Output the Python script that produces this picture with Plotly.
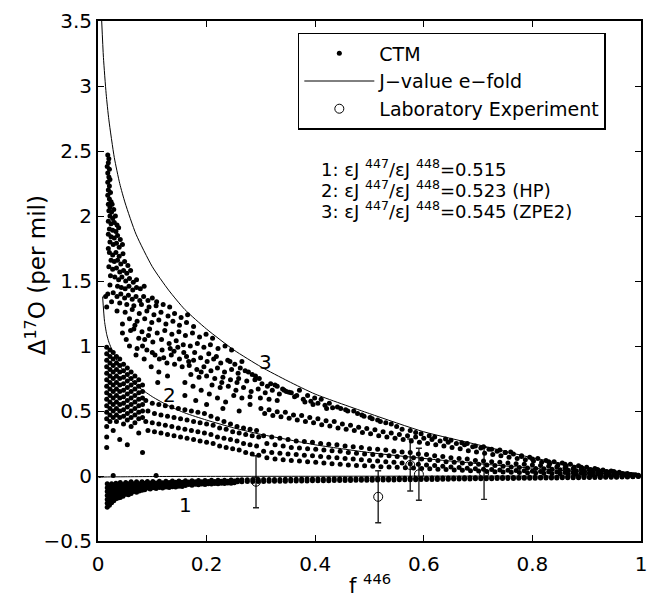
import plotly.graph_objects as go

FONT = "DejaVu Sans"

# ---------------- J-value e-fold curves ----------------
curve3_f = [0.0068, 0.01, 0.015, 0.02, 0.03, 0.04, 0.05, 0.07, 0.1, 0.13, 0.16, 0.2, 0.25, 0.3,
            0.35, 0.4, 0.5, 0.6, 0.7, 0.8, 0.9, 1.0]
curve3_d = [3.5, 3.22, 2.94, 2.74, 2.45, 2.25, 2.10, 1.86, 1.61, 1.43, 1.28, 1.13, 0.97, 0.84,
            0.73, 0.63, 0.48, 0.34, 0.24, 0.14, 0.065, 0.0]
curve2_f = [0.0085, 0.012, 0.016, 0.02, 0.03, 0.04, 0.05, 0.07, 0.1, 0.13, 0.16, 0.2, 0.25, 0.3,
            0.35, 0.4, 0.5, 0.6, 0.7, 0.8, 0.9, 1.0]
curve2_d = [1.38, 1.19, 1.09, 1.03, 0.93, 0.85, 0.79, 0.70, 0.61, 0.54, 0.485, 0.43, 0.37, 0.32,
            0.28, 0.24, 0.18, 0.135, 0.095, 0.06, 0.028, 0.0]
curve1_f = [0.001, 0.01, 0.05, 0.1, 0.2, 0.4, 0.6, 0.8, 1.0]
curve1_d = [-0.012, -0.008, -0.006, -0.004, -0.003, -0.002, -0.001, -0.0005, 0.0]

# ---------------- Laboratory experiment ----------------
lab_f = [0.291, 0.516, 0.575, 0.591, 0.711]
lab_d = [-0.044, -0.16, 0.085, 0.013, 0.02]
lab_err = [0.2, 0.2, 0.2, 0.2, 0.2]

# ---------------- CTM points ----------------
ctm_upper = [
    (0.018, 2.47), (0.020, 2.44), (0.019, 2.41), (0.017, 2.38), (0.021, 2.36), (0.018, 2.33), (0.020, 2.30),
    (0.022, 2.28), (0.018, 2.26), (0.021, 2.23), (0.019, 2.20), (0.023, 2.18), (0.018, 2.16), (0.021, 2.13),
    (0.024, 2.11), (0.019, 2.09), (0.022, 2.07), (0.026, 2.09),
    (0.020, 2.04), (0.025, 2.03), (0.029, 2.05), (0.022, 2.00), (0.027, 1.98), (0.032, 2.00), (0.019, 1.96),
    (0.024, 1.94), (0.030, 1.95), (0.035, 1.93), (0.021, 1.90), (0.027, 1.89), (0.033, 1.88), (0.038, 1.91),
    (0.019, 1.86), (0.024, 1.84), (0.030, 1.83), (0.036, 1.85), (0.041, 1.82), (0.022, 1.80), (0.028, 1.78),
    (0.034, 1.79), (0.039, 1.76), (0.045, 1.78), (0.019, 1.75),
    (0.021, 1.72), (0.027, 1.70), (0.033, 1.72), (0.039, 1.69), (0.046, 1.71), (0.024, 1.66), (0.030, 1.65),
    (0.036, 1.66), (0.042, 1.63), (0.049, 1.65), (0.055, 1.62), (0.020, 1.61), (0.027, 1.59), (0.034, 1.60),
    (0.040, 1.57), (0.047, 1.58), (0.053, 1.56), (0.060, 1.58), (0.023, 1.54), (0.031, 1.53), (0.038, 1.51),
    (0.044, 1.53), (0.051, 1.50), (0.058, 1.52), (0.065, 1.49), (0.071, 1.51), (0.022, 1.47), (0.036, 1.46),
    (0.043, 1.45), (0.050, 1.44), (0.057, 1.46), (0.064, 1.43), (0.071, 1.45), (0.078, 1.44), (0.085, 1.46),
    (0.018, 1.40), (0.028, 1.41), (0.035, 1.38), (0.042, 1.40), (0.049, 1.37), (0.056, 1.39), (0.063, 1.36),
    (0.070, 1.38), (0.077, 1.35), (0.084, 1.38), (0.092, 1.35), (0.100, 1.37), (0.108, 1.34), (0.040, 1.33),
    (0.053, 1.32), (0.066, 1.31), (0.080, 1.32), (0.094, 1.30), (0.107, 1.31), (0.120, 1.32), (0.132, 1.30),
    (0.025, 1.34),
    (0.035, 1.27), (0.050, 1.26), (0.063, 1.28), (0.076, 1.25), (0.090, 1.27), (0.103, 1.24), (0.116, 1.26),
    (0.129, 1.23), (0.141, 1.25), (0.153, 1.22), (0.165, 1.24), (0.058, 1.21), (0.072, 1.19), (0.086, 1.21),
    (0.099, 1.18), (0.112, 1.20), (0.125, 1.17), (0.138, 1.19), (0.150, 1.16), (0.163, 1.18), (0.176, 1.15),
    (0.045, 1.17),
    (0.066, 1.13), (0.081, 1.11), (0.095, 1.13), (0.109, 1.10), (0.123, 1.12), (0.136, 1.09), (0.149, 1.11),
    (0.161, 1.08), (0.174, 1.10), (0.187, 1.07), (0.199, 1.09), (0.211, 1.06), (0.086, 1.05), (0.101, 1.03),
    (0.117, 1.05), (0.131, 1.02), (0.144, 1.04), (0.157, 1.01), (0.170, 1.00), (0.183, 1.02), (0.195, 0.99),
    (0.207, 1.01), (0.221, 0.98), (0.234, 1.00), (0.072, 0.98), (0.118, 0.97), (0.140, 0.96), (0.246, 0.97),
    (0.105, 0.93), (0.121, 0.91), (0.135, 0.93), (0.150, 0.90), (0.163, 0.92), (0.176, 0.89), (0.189, 0.91),
    (0.201, 0.88), (0.213, 0.90), (0.226, 0.87), (0.239, 0.89), (0.252, 0.86), (0.265, 0.88), (0.141, 0.86),
    (0.155, 0.84), (0.168, 0.85), (0.182, 0.82), (0.195, 0.84), (0.208, 0.81), (0.220, 0.83), (0.233, 0.80),
    (0.246, 0.82), (0.258, 0.79), (0.271, 0.81), (0.284, 0.78), (0.171, 0.78), (0.186, 0.76), (0.200, 0.77),
    (0.215, 0.75), (0.230, 0.76), (0.244, 0.74), (0.259, 0.75), (0.274, 0.73), (0.289, 0.74), (0.302, 0.71),
    (0.210, 0.70), (0.225, 0.68), (0.240, 0.69), (0.254, 0.66), (0.268, 0.68), (0.282, 0.65), (0.295, 0.67),
    (0.308, 0.64), (0.321, 0.66), (0.334, 0.63), (0.347, 0.65), (0.250, 0.62), (0.265, 0.60), (0.280, 0.61),
    (0.299, 0.60), (0.315, 0.59), (0.330, 0.58),
    (0.312, 0.69), (0.326, 0.70), (0.340, 0.67), (0.356, 0.64), (0.371, 0.66), (0.386, 0.62), (0.399, 0.60),
    (0.411, 0.59), (0.426, 0.56), (0.441, 0.53), (0.456, 0.51), (0.471, 0.50), (0.486, 0.47), (0.501, 0.45),
    (0.362, 0.61), (0.381, 0.57), (0.396, 0.55), (0.421, 0.52), (0.515, 0.43), (0.530, 0.41),
    (0.058, 1.00), (0.070, 0.93), (0.085, 0.90), (0.098, 0.84), (0.112, 0.80), (0.128, 0.77), (0.090, 0.97),
    (0.110, 0.72), (0.160, 0.72), (0.175, 0.69), (0.190, 0.66), (0.205, 0.63), (0.220, 0.60), (0.235, 0.57),
    (0.160, 0.62), (0.180, 0.58), (0.200, 0.55), (0.230, 0.52), (0.260, 0.50), (0.280, 0.55),
    (0.014, 1.38), (0.016, 1.30),
    (0.045, 1.10), (0.052, 1.05), (0.060, 1.12), (0.075, 1.06), (0.068, 1.16), (0.082, 1.00), (0.093, 1.08),
    (0.100, 0.95), (0.113, 0.90), (0.127, 0.87), (0.133, 0.98), (0.147, 0.99), (0.158, 0.95), (0.167, 0.88),
    (0.178, 0.95), (0.190, 0.80), (0.204, 0.94), (0.218, 0.92), (0.228, 0.72), (0.243, 0.88), (0.256, 0.72),
    (0.262, 0.83), (0.277, 0.80), (0.290, 0.77), (0.297, 0.75), (0.318, 0.71), (0.330, 0.69), (0.343, 0.66),
    (0.352, 0.645), (0.366, 0.62), (0.378, 0.59), (0.392, 0.575), (0.405, 0.56), (0.418, 0.545), (0.432, 0.525),
    (0.447, 0.52), (0.460, 0.50), (0.478, 0.48), (0.490, 0.46), (0.505, 0.44), (0.520, 0.42), (0.540, 0.40),
    (0.550, 0.38), (0.575, 0.35), (0.595, 0.325), (0.620, 0.30), (0.650, 0.275), (0.670, 0.255), (0.695, 0.23),
    (0.725, 0.205), (0.750, 0.18), (0.780, 0.15), (0.800, 0.13), (0.830, 0.11), (0.860, 0.09), (0.890, 0.068),
    (0.920, 0.05), (0.950, 0.035),
]

ctm_band2 = [
    (0.300, 0.52), (0.307, 0.48), (0.315, 0.51), (0.322, 0.465), (0.330, 0.495), (0.337, 0.455), (0.345, 0.49),
    (0.352, 0.445), (0.360, 0.47), (0.367, 0.43), (0.375, 0.465), (0.382, 0.42), (0.390, 0.45), (0.397, 0.41),
    (0.405, 0.44), (0.412, 0.395), (0.420, 0.425), (0.427, 0.385), (0.435, 0.42), (0.442, 0.37), (0.450, 0.40),
    (0.457, 0.36), (0.465, 0.39), (0.472, 0.35), (0.480, 0.375), (0.487, 0.335), (0.495, 0.365), (0.502, 0.325),
    (0.510, 0.355), (0.517, 0.31), (0.525, 0.34), (0.532, 0.30), (0.540, 0.33), (0.547, 0.29), (0.555, 0.32),
    (0.562, 0.28), (0.570, 0.31), (0.577, 0.27), (0.585, 0.30), (0.592, 0.26), (0.600, 0.29), (0.607, 0.25),
    (0.615, 0.28), (0.622, 0.24), (0.630, 0.27), (0.637, 0.23), (0.645, 0.26), (0.652, 0.22), (0.660, 0.25),
    (0.667, 0.21), (0.675, 0.24), (0.682, 0.195), (0.690, 0.225), (0.697, 0.185), (0.705, 0.215), (0.712, 0.175),
    (0.720, 0.205), (0.727, 0.165), (0.735, 0.19), (0.742, 0.155), (0.750, 0.18), (0.757, 0.145), (0.765, 0.17),
    (0.772, 0.135), (0.780, 0.155), (0.787, 0.125), (0.795, 0.145), (0.802, 0.115), (0.810, 0.135), (0.817, 0.105),
    (0.825, 0.12), (0.832, 0.095), (0.840, 0.11), (0.847, 0.085), (0.855, 0.10), (0.862, 0.075), (0.870, 0.09),
    (0.877, 0.068), (0.885, 0.078), (0.892, 0.058), (0.900, 0.068), (0.907, 0.05), (0.915, 0.057), (0.922, 0.042),
    (0.930, 0.047), (0.937, 0.034), (0.945, 0.038), (0.952, 0.026), (0.960, 0.028), (0.967, 0.018), (0.975, 0.019),
    (0.982, 0.011), (0.990, 0.01),
    (0.560, 0.36), (0.585, 0.335), (0.610, 0.31), (0.640, 0.285), (0.680, 0.25), (0.710, 0.225), (0.740, 0.20),
    (0.760, 0.185),
]

# lower cloud: columns of (f, [Delta values])
ctm_lower_cols = [
    (0.016, [0.99, 0.94, 0.89, 0.84, 0.79, 0.74, 0.69, 0.64, 0.59, 0.54, 0.49, 0.44, 0.38, 0.30, 0.22]),
    (0.022, [0.97, 0.92, 0.87, 0.82, 0.77, 0.72, 0.67, 0.62, 0.57, 0.52, 0.47, 0.42]),
    (0.028, [0.95, 0.90, 0.85, 0.80, 0.75, 0.70, 0.65, 0.60, 0.55, 0.50, 0.45, 0.35]),
    (0.034, [0.92, 0.87, 0.82, 0.77, 0.72, 0.67, 0.62, 0.57, 0.52, 0.47, 0.42]),
    (0.040, [0.90, 0.85, 0.80, 0.75, 0.70, 0.65, 0.60, 0.55, 0.50, 0.45, 0.28]),
    (0.047, [0.86, 0.81, 0.76, 0.71, 0.66, 0.61, 0.56, 0.51, 0.46, 0.40]),
    (0.054, [0.83, 0.78, 0.73, 0.68, 0.63, 0.58, 0.53, 0.48, 0.43, 0.24]),
    (0.061, [0.80, 0.75, 0.70, 0.65, 0.60, 0.55, 0.50, 0.45, 0.38]),
    (0.068, [0.77, 0.72, 0.67, 0.62, 0.57, 0.52, 0.47, 0.41]),
    (0.075, [0.74, 0.69, 0.64, 0.59, 0.54, 0.49, 0.44, 0.33]),
    (0.082, [0.70, 0.65, 0.60, 0.55, 0.50, 0.45, 0.18]),
    (0.088, [0.58, 0.42]), (0.092, [0.50, 0.35]), (0.100, [0.56, 0.41]), (0.104, [0.48, 0.34]),
    (0.112, [0.55, 0.40]), (0.116, [0.47, 0.33]), (0.124, [0.54, 0.39]), (0.128, [0.46, 0.32]),
    (0.136, [0.53, 0.38]), (0.140, [0.45, 0.31]), (0.148, [0.52, 0.37]), (0.152, [0.44, 0.30]),
    (0.160, [0.51, 0.36]), (0.164, [0.43, 0.29]), (0.172, [0.50, 0.35]), (0.176, [0.42, 0.28]),
    (0.184, [0.49, 0.34]), (0.188, [0.41, 0.27]), (0.196, [0.48, 0.33]), (0.200, [0.40, 0.26]),
    (0.208, [0.46, 0.32]), (0.212, [0.39, 0.25]), (0.220, [0.44, 0.30]), (0.224, [0.37, 0.23]),
    (0.232, [0.42, 0.29]), (0.236, [0.36, 0.22]), (0.244, [0.40, 0.28]), (0.248, [0.34, 0.21]),
    (0.256, [0.38, 0.27]), (0.260, [0.33, 0.20]), (0.268, [0.37, 0.25]), (0.272, [0.32, 0.18]),
    (0.280, [0.36, 0.24]), (0.284, [0.31, 0.17]), (0.292, [0.35, 0.23]), (0.296, [0.30, 0.16]),
    (0.305, [0.31, 0.19]), (0.311, [0.25, 0.14]), (0.320, [0.30, 0.18]), (0.326, [0.24, 0.13]),
    (0.335, [0.29, 0.175]), (0.341, [0.23, 0.125]), (0.350, [0.28, 0.17]), (0.356, [0.22, 0.12]),
    (0.365, [0.27, 0.165]), (0.371, [0.215, 0.115]), (0.380, [0.265, 0.16]), (0.386, [0.21, 0.11]),
    (0.395, [0.26, 0.155]), (0.401, [0.205, 0.105]), (0.410, [0.25, 0.15]), (0.416, [0.20, 0.10]),
    (0.425, [0.245, 0.145]), (0.431, [0.195, 0.095]), (0.440, [0.24, 0.14]), (0.446, [0.19, 0.09]),
    (0.455, [0.23, 0.135]), (0.461, [0.18, 0.085]), (0.470, [0.225, 0.13]), (0.476, [0.175, 0.08]),
    (0.485, [0.22, 0.125]), (0.491, [0.17, 0.078]), (0.500, [0.21, 0.12]), (0.506, [0.165, 0.075]),
    (0.515, [0.205, 0.115]), (0.521, [0.16, 0.072]), (0.530, [0.20, 0.11]), (0.536, [0.155, 0.07]),
    (0.545, [0.19, 0.105]), (0.551, [0.15, 0.067]), (0.560, [0.185, 0.10]), (0.566, [0.145, 0.064]),
    (0.575, [0.18, 0.095]), (0.581, [0.14, 0.061]), (0.590, [0.17, 0.09]), (0.596, [0.13, 0.058]),
    (0.605, [0.165, 0.085]), (0.611, [0.125, 0.055]), (0.620, [0.155, 0.08]), (0.626, [0.12, 0.052]),
    (0.635, [0.15, 0.075]), (0.641, [0.11, 0.05]), (0.650, [0.14, 0.07]), (0.656, [0.105, 0.047]),
    (0.665, [0.135, 0.065]), (0.671, [0.10, 0.044]), (0.680, [0.13, 0.06]), (0.686, [0.095, 0.041]),
    (0.695, [0.12, 0.055]), (0.701, [0.09, 0.038]), (0.710, [0.115, 0.052]), (0.716, [0.085, 0.035]),
    (0.725, [0.11, 0.05]), (0.731, [0.08, 0.033]), (0.740, [0.105, 0.047]), (0.746, [0.075, 0.031]),
    (0.755, [0.10, 0.045]), (0.761, [0.07, 0.029]), (0.770, [0.095, 0.042]), (0.776, [0.066, 0.027]),
    (0.785, [0.09, 0.04]), (0.791, [0.062, 0.025]), (0.800, [0.085, 0.037]), (0.806, [0.058, 0.023]),
    (0.815, [0.08, 0.035]), (0.821, [0.055, 0.021]), (0.830, [0.075, 0.033]), (0.836, [0.052, 0.019]),
    (0.845, [0.07, 0.03]), (0.851, [0.048, 0.017]), (0.860, [0.062, 0.027]), (0.866, [0.044, 0.015]),
    (0.875, [0.056, 0.025]), (0.881, [0.04, 0.014]), (0.890, [0.05, 0.022]), (0.896, [0.036, 0.013]),
    (0.905, [0.045, 0.02]), (0.911, [0.032, 0.012]), (0.920, [0.038, 0.018]), (0.926, [0.028, 0.011]),
    (0.935, [0.032, 0.015]), (0.941, [0.024, 0.01]), (0.950, [0.026, 0.012]), (0.956, [0.02, 0.009]),
    (0.965, [0.02, 0.01]), (0.971, [0.016, 0.008]), (0.980, [0.012, 0.007]), (0.986, [0.01, 0.005]),
    (0.995, [0.006, 0.003]),
]

# negative band (case 1): columns of (f, [Delta values])
ctm_neg_cols = [
    (0.017, [-0.06, -0.09, -0.12, -0.15, -0.18, -0.21, -0.24]),
    (0.021, [-0.075, -0.105, -0.135, -0.165, -0.195, -0.225]),
    (0.025, [-0.06, -0.09, -0.12, -0.15, -0.18, -0.205]),
    (0.029, [-0.07, -0.10, -0.13, -0.16, -0.19]),
    (0.033, [-0.055, -0.085, -0.115, -0.145, -0.175]),
    (0.037, [-0.065, -0.095, -0.125, -0.155, -0.17]),
    (0.041, [-0.05, -0.08, -0.11, -0.14, -0.165]),
    (0.046, [-0.065, -0.095, -0.125, -0.155]),
    (0.051, [-0.05, -0.08, -0.11, -0.14]),
    (0.056, [-0.06, -0.09, -0.12, -0.145]),
    (0.061, [-0.045, -0.075, -0.105, -0.135]),
    (0.066, [-0.06, -0.09, -0.12]),
    (0.071, [-0.045, -0.075, -0.105, -0.125]),
    (0.076, [-0.06, -0.09, -0.115]),
    (0.081, [-0.045, -0.07, -0.095, -0.11]),
    (0.086, [-0.055, -0.08, -0.105]),
    (0.091, [-0.042, -0.068, -0.092]),
    (0.096, [-0.055, -0.08, -0.10]),
    (0.101, [-0.042, -0.066, -0.09]),
    (0.107, [-0.053, -0.078, -0.097]),
    (0.113, [-0.041, -0.064, -0.088]),
    (0.119, [-0.052, -0.076, -0.093]),
    (0.125, [-0.04, -0.062, -0.085]),
    (0.131, [-0.05, -0.072, -0.089]),
    (0.137, [-0.039, -0.06, -0.082]),
    (0.143, [-0.049, -0.07, -0.085]),
    (0.149, [-0.038, -0.058, -0.078]),
    (0.155, [-0.048, -0.068, -0.08]),
    (0.161, [-0.037, -0.056, -0.074]),
    (0.167, [-0.047, -0.066]),
    (0.173, [-0.036, -0.055, -0.071]),
    (0.179, [-0.045, -0.064]),
    (0.185, [-0.035, -0.053, -0.068]),
    (0.191, [-0.044, -0.062]),
    (0.197, [-0.034, -0.052, -0.065]),
    (0.203, [-0.043, -0.06]),
    (0.209, [-0.033, -0.05, -0.062]),
    (0.215, [-0.042, -0.058]),
    (0.221, [-0.032, -0.048, -0.06]),
    (0.227, [-0.041, -0.056]),
    (0.233, [-0.032, -0.047, -0.058]),
    (0.239, [-0.04, -0.054]),
    (0.245, [-0.031, -0.046, -0.056]),
    (0.251, [-0.039, -0.052]),
    (0.257, [-0.03, -0.045]),
    (0.265, [-0.028, -0.044]), (0.275, [-0.028, -0.043]), (0.285, [-0.027, -0.043]), (0.295, [-0.027, -0.042]),
    (0.305, [-0.027, -0.042]), (0.315, [-0.026, -0.041]), (0.325, [-0.026, -0.041]), (0.335, [-0.026, -0.040]),
    (0.345, [-0.025, -0.040]), (0.355, [-0.025, -0.039]), (0.365, [-0.025, -0.039]), (0.375, [-0.024, -0.038]),
    (0.385, [-0.024, -0.038]), (0.395, [-0.024, -0.037]), (0.405, [-0.023, -0.037]), (0.415, [-0.023, -0.036]),
    (0.425, [-0.023, -0.036]), (0.435, [-0.022, -0.035]), (0.445, [-0.022, -0.035]), (0.455, [-0.022, -0.034]),
    (0.465, [-0.021, -0.034]), (0.475, [-0.021, -0.033]), (0.485, [-0.021, -0.033]), (0.495, [-0.020, -0.032]),
    (0.505, [-0.020, -0.032]), (0.515, [-0.020, -0.031]), (0.525, [-0.019, -0.031]), (0.535, [-0.019, -0.030]),
    (0.545, [-0.019, -0.030]), (0.555, [-0.018, -0.029]), (0.565, [-0.018, -0.029]), (0.575, [-0.018, -0.028]),
    (0.585, [-0.017, -0.028]), (0.595, [-0.017, -0.027]), (0.605, [-0.017, -0.027]), (0.615, [-0.016, -0.026]),
    (0.625, [-0.016, -0.026]), (0.635, [-0.016, -0.025]), (0.645, [-0.015, -0.025]), (0.655, [-0.015, -0.024]),
    (0.665, [-0.015, -0.024]), (0.675, [-0.014, -0.023]), (0.685, [-0.014, -0.023]), (0.695, [-0.014, -0.022]),
    (0.705, [-0.013, -0.022]), (0.715, [-0.013, -0.021]), (0.725, [-0.013, -0.021]), (0.735, [-0.012, -0.020]),
    (0.745, [-0.012, -0.020]), (0.755, [-0.012, -0.019]), (0.765, [-0.011, -0.019]), (0.775, [-0.011, -0.018]),
    (0.785, [-0.011, -0.018]), (0.795, [-0.010, -0.017]), (0.805, [-0.010, -0.017]), (0.815, [-0.010, -0.016]),
    (0.825, [-0.009, -0.016]), (0.835, [-0.009, -0.015]), (0.845, [-0.009, -0.015]), (0.855, [-0.008, -0.014]),
    (0.865, [-0.008, -0.014]), (0.875, [-0.008, -0.013]), (0.885, [-0.007, -0.013]), (0.895, [-0.007, -0.012]),
    (0.905, [-0.007, -0.012]), (0.915, [-0.006, -0.011]), (0.925, [-0.006, -0.011]), (0.935, [-0.006, -0.010]),
    (0.945, [-0.005, -0.010]), (0.955, [-0.005, -0.009]), (0.965, [-0.004, -0.008]), (0.975, [-0.004, -0.007]),
    (0.985, [-0.003, -0.006]), (0.995, [-0.002, -0.004]),
]
ctm_zero = [(0.028, 0.003), (0.107, 0.003)]

# text
ratio_lines = ["1: \u03b5J <sup>447</sup>/\u03b5J <sup>448</sup>=0.515",
               "2: \u03b5J <sup>447</sup>/\u03b5J <sup>448</sup>=0.523 (HP)",
               "3: \u03b5J <sup>447</sup>/\u03b5J <sup>448</sup>=0.545 (ZPE2)"]
ratio_line_d = [2.367, 2.205, 2.05]
curve_labels = ["1", "2", "3"]
curve_label_f = [0.161, 0.132, 0.309]
curve_label_d = [-0.223, 0.62, 0.877]

# ---------------- assemble ----------------
pts_x, pts_y = [], []
for p in ctm_upper + ctm_band2 + ctm_zero:
    pts_x.append(p[0]); pts_y.append(p[1])
for fx, ys in ctm_lower_cols + ctm_neg_cols:
    for yv in ys:
        pts_x.append(fx); pts_y.append(yv)

fig = go.Figure()

fig.add_trace(go.Scatter(
    x=lab_f, y=lab_d, mode="markers", name="Laboratory Experiment",
    marker=dict(symbol="circle-open", size=9, color="black", line=dict(width=1)),
    error_y=dict(type="data", array=lab_err, color="#222222", thickness=1.4, width=3),
    legendrank=3,
))
fig.add_trace(go.Scatter(
    x=pts_x, y=pts_y, mode="markers", name="CTM",
    marker=dict(symbol="circle", size=5, color="black", line=dict(width=0)),
    legendrank=1,
))
for i, (cf, cd) in enumerate([(curve3_f, curve3_d), (curve2_f, curve2_d), (curve1_f, curve1_d)]):
    fig.add_trace(go.Scatter(
        x=cf, y=cd, mode="lines", name="J\u2212value e\u2212fold",
        line=dict(color="black", width=1, shape="spline", smoothing=0.6),
        showlegend=(i == 0), legendrank=2,
    ))

annotations = []
for t, yv in zip(ratio_lines, ratio_line_d):
    annotations.append(dict(x=0.4075, y=yv, xref="x", yref="y", text=t,
                            showarrow=False, xanchor="left", yanchor="middle",
                            font=dict(family=FONT, size=18, color="black")))
for t, fx, fy in zip(curve_labels, curve_label_f, curve_label_d):
    annotations.append(dict(x=fx, y=fy, xref="x", yref="y", text=t, showarrow=False,
                            xanchor="center", yanchor="middle",
                            font=dict(family=FONT, size=20, color="black")))
annotations.append(dict(x=0.5, y=-0.112, xref="paper", yref="paper", text="f <sup>446</sup>",
                        showarrow=False, xanchor="center", yanchor="bottom", borderpad=0,
                        font=dict(family=FONT, size=21, color="black")))
annotations.append(dict(x=-0.115, y=0.51, xref="paper", yref="paper",
                        text="\u0394<sup>17</sup>O (per mil)", textangle=-90,
                        showarrow=False, xanchor="center", yanchor="middle",
                        font=dict(family=FONT, size=23, color="black")))

axis_common = dict(showline=True, linecolor="black", linewidth=2, mirror="ticks",
                   ticks="inside", ticklen=6, tickwidth=1, tickcolor="black",
                   showgrid=False, zeroline=False, ticklabeloverflow="allow",
                   tickfont=dict(family=FONT, size=20, color="black"))

fig.update_layout(
    width=649, height=600,
    margin=dict(l=98, r=2, t=21, b=59),
    paper_bgcolor="white", plot_bgcolor="white",
    xaxis=dict(range=[0, 1], tickvals=[0, 0.2, 0.4, 0.6, 0.8, 1],
               ticktext=["0", "0.2", "0.4", "0.6", "0.8", "1"], ticklabelstandoff=4, **axis_common),
    yaxis=dict(range=[-0.5, 3.5], tickvals=[-0.5, 0, 0.5, 1, 1.5, 2, 2.5, 3, 3.5],
               ticktext=["\u22120.5", "0", "0.5", "1", "1.5", "2", "2.5", "3", "3.5"], **axis_common),
    legend=dict(x=0.368, y=0.977, xanchor="left", yanchor="top",
                bgcolor="white", bordercolor="black", borderwidth=1.5,
                font=dict(family=FONT, size=19, color="black"),
                itemwidth=70, tracegroupgap=0),
    annotations=annotations,
    showlegend=True,
)

fig.write_html("out.html")
